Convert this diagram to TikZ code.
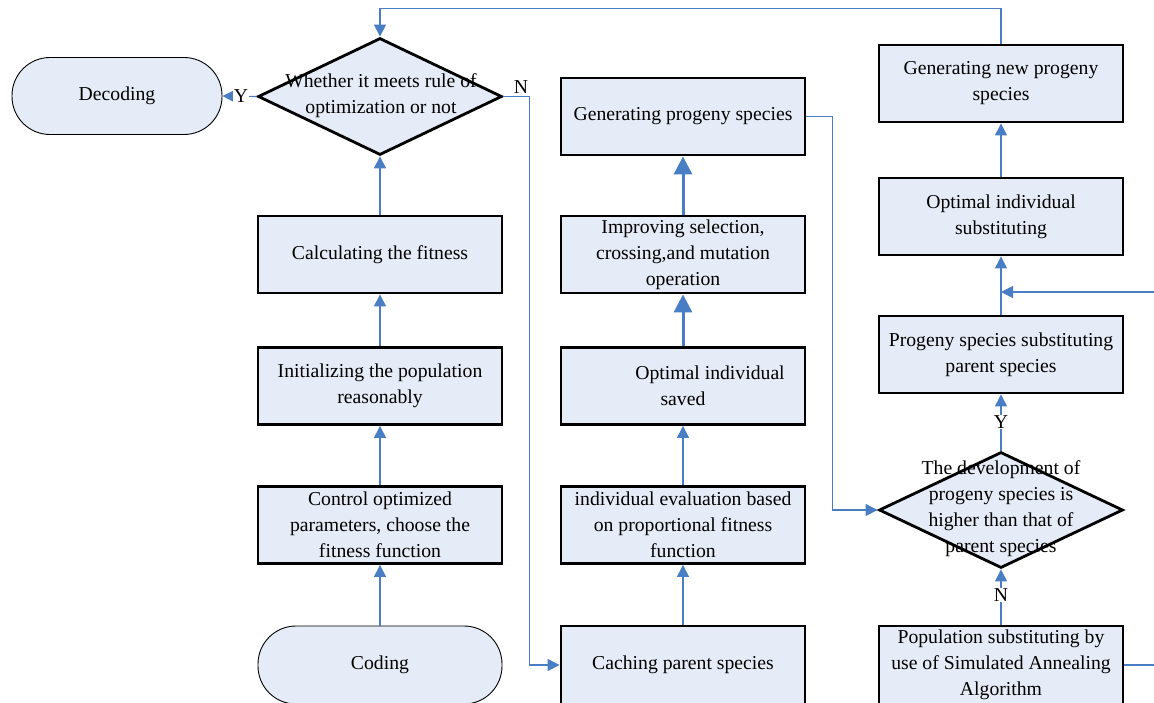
\documentclass[tikz,border=0pt]{standalone}
\usepackage{fontspec}
\setmainfont{Liberation Serif}
\usetikzlibrary{arrows.meta,shapes.geometric}
\definecolor{boxfill}{HTML}{E6ECF7}
\definecolor{linkblue}{HTML}{4A7EC4}
\newcommand\boxfont{\fontsize{19.7}{26}\selectfont}
\begin{document}
\begin{tikzpicture}[x=1pt,y=-1pt,
  box/.style={draw=black, line width=2.8pt, fill=boxfill, minimum width=244pt,
    minimum height=77pt, align=center, inner sep=0pt, font=\boxfont},
  term/.style={draw=black, line width=0.9pt, fill=boxfill, rounded corners=38pt,
    minimum height=77pt, inner sep=0pt, font=\boxfont},
  decision/.style={draw=black, line width=2.8pt, fill=boxfill, shape=diamond,
    minimum width=244pt, minimum height=117pt, inner sep=0pt},
  dtext/.style={align=center, font=\boxfont, inner sep=0pt},
  link/.style={draw=linkblue, line width=1.1pt, -{Triangle[width=12pt,length=12pt]}},
  boldlink/.style={draw=linkblue, line width=3pt, -{Triangle[width=18pt,length=18pt]}},
  lbl/.style={font=\boxfont, inner sep=1pt}]
\useasboundingbox (0,0) rectangle (1154,702);

% left column
\node[term, minimum width=210pt] (dec) at (117,96) {Decoding};
\node[decision] (dia1) at (380,96.5) {};
\node[dtext] (dia1t) at (381,96) {Whether it meets rule of\\optimization or not};
\node[box] (fit) at (380,254.5) {Calculating the fitness};
\node[box] (init) at (380,386) {Initializing the population\\reasonably};
\node[box] (ctrl) at (380,525) {Control optimized\\parameters, choose the\\fitness function};
\node[term, minimum width=244pt, minimum height=78pt] (code) at (380,665) {Coding};

% middle column
\node[box] (gen) at (683,116.5) {Generating progeny species};
\node[box] (impr) at (683,254.5) {Improving selection,\\crossing,and mutation\\operation};
\node[box] (save) at (683,386) {\hspace*{54pt}Optimal individual\\saved};
\node[box] (eval) at (683,525) {individual evaluation based\\on proportional fitness\\function};
\node[box, minimum height=78pt] (cache) at (683,665) {Caching parent species};

% right column
\node[box] (gennew) at (1001,83.5) {Generating new progeny\\species};
\node[box] (optsub) at (1001,216.5) {Optimal individual\\substituting};
\node[box] (progsub) at (1001,354.5) {Progeny species substituting\\parent species};
\node[decision, minimum height=116pt] (dia2) at (1001,510) {};
\node[dtext] (dia2t) at (1001,509) {The development of\\progeny species is\\higher than that of\\parent species};
\node[box, minimum height=78pt] (pop) at (1001,665) {Population substituting by\\use of Simulated Annealing\\Algorithm};
\coordinate (join) at (1001,292);

% connectors, left column
\draw[link] (code.north) -- (ctrl.south);
\draw[link] (ctrl.north) -- (init.south);
\draw[link] (init.north) -- (fit.south);
\draw[link] (fit.north) -- (dia1.south);
\draw[link] (dia1.west) -- (dec.east);
\node[lbl, fill=white] (ylab1) at (241,96) {Y};
\draw[link] (dia1.east) -- ++(26,0) |- (cache.west);
\node[lbl] (nlab1) at (521,87) {N};

% connectors, middle column
\draw[link] (cache.north) -- (eval.south);
\draw[link] (eval.north) -- (save.south);
\draw[boldlink] (save.north) -- (impr.south);
\draw[boldlink] (impr.north) -- (gen.south);
\draw[link] (gen.east) -- ++(26,0) |- (dia2.west);

% connectors, right column
\draw[link] (pop.north) -- (dia2.south);
\node[lbl, fill=white] (nlab2) at (1001,595) {N};
\draw[link] (dia2.north) -- (progsub.south);
\node[lbl, fill=white] (ylab2) at (1001,422) {Y};
\draw[link] (progsub.north) -- (optsub.south);
\draw[link] (pop.east) -- (1162,665) |- (join);
\draw[link] (optsub.north) -- (gennew.south);
\draw[link] (gennew.north) -- ++(0,-35) -| (dia1.north);
\end{tikzpicture}
\end{document}
